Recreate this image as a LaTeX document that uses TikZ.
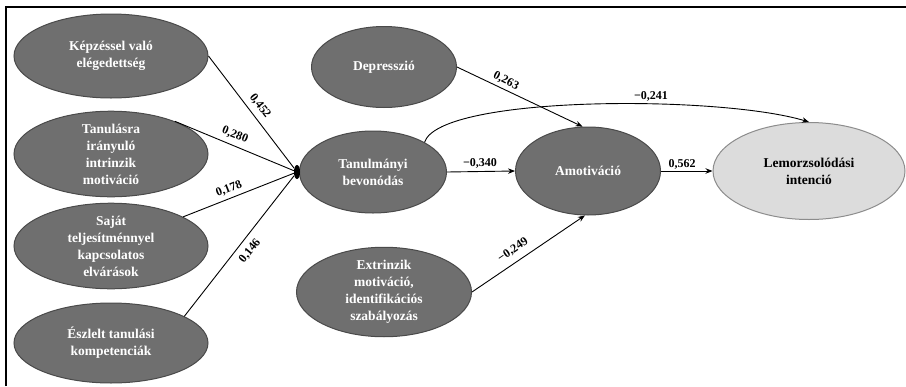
\documentclass[tikz,border=0pt]{standalone}
\usepackage{fontspec}
\setmainfont{Liberation Serif}
\usetikzlibrary{shapes.geometric,arrows.meta}
\definecolor{ellfill}{HTML}{6F6F6F}
\definecolor{elldraw}{HTML}{4A4A4A}
\definecolor{litefill}{HTML}{DCDCDC}
\definecolor{litedraw}{HTML}{8C8C8C}
\begin{document}
\begin{tikzpicture}[x=1pt,y=-1pt,
  dark/.style={ellipse,draw=elldraw,line width=1pt,fill=ellfill,text=white,
    font=\bfseries\fontsize{13.5}{17}\selectfont,align=center,inner sep=0pt},
  lite/.style={ellipse,draw=litedraw,line width=1pt,fill=litefill,text=black,
    font=\bfseries\fontsize{13.5}{17}\selectfont,align=center,inner sep=0pt},
  lbl/.style={font=\bfseries\fontsize{12}{13}\selectfont,inner sep=0pt},
  con/.style={line width=0.9pt},
  arr/.style={line width=0.9pt,-{Stealth[length=7pt,width=5.5pt]}}]
\useasboundingbox (0,0) rectangle (906,386);
\draw[line width=1.2pt] (6,386) -- (6,7) -- (906,7);

% left column
\node[dark,minimum width=194pt,minimum height=84pt] (kep) at (111,56) {Képzéssel való\\elégedettség};
\node[dark,minimum width=194pt,minimum height=80pt] (tan) at (111,154) {Tanulásra\\irányuló\\intrinzik\\motiváció};
\node[dark,minimum width=194pt,minimum height=84pt] (saj) at (111,246) {Saját\\teljesítménnyel\\kapcsolatos\\elvárások};
\node[dark,minimum width=194pt,minimum height=80pt] (esz) at (111,343) {Észlelt tanulási\\kompetenciák};

% middle column
\node[dark,minimum width=145pt,minimum height=81pt] (dep) at (384,67) {Depresszió};
\node[dark,minimum width=147pt,minimum height=82pt] (tb) at (373,172) {Tanulmányi\\bevonódás};
\node[dark,minimum width=175pt,minimum height=81pt] (ext) at (384,292) {Extrinzik\\motiváció,\\identifikációs\\szabályozás};

% right
\node[dark,minimum width=145pt,minimum height=88pt] (amo) at (588,171) {Amotiváció};
\node[lite,minimum width=192pt,minimum height=97pt] (lem) at (809,171) {Lemorzsolódási\\intenció};

% junction
\node[ellipse,fill=black,minimum width=6pt,minimum height=14pt,inner sep=0pt] (j) at (297,172) {};

% connectors into junction
\draw[con] (kep.east) -- (j);
\draw[con] (tan.27) -- (j);
\draw[con] (saj.22) -- (j);
\draw[con] (esz.20) -- (j);

% arrows
\draw[arr] (dep.east) -- (amo.97);
\draw[arr] (tb.east) -- (amo.west);
\draw[arr] (ext.east) -- (amo.266);
\draw[arr] (amo.east) -- (lem.west);
\draw[arr] (tb.30) .. controls (440,95) and (720,95) .. (lem.north);

% labels
\node[lbl,rotate=-52] (l1) at (260,106) {0,452};
\node[lbl,rotate=-22] (l2) at (235,135) {0,280};
\node[lbl,rotate=21.5] (l3) at (229,189) {0,178};
\node[lbl,rotate=51] (l4) at (250,251) {0,146};
\node[lbl,rotate=-27] (l5) at (506,81) {0,263};
\node[lbl] (l6) at (480,163) {−0,340};
\node[lbl] (l7) at (651,96) {−0,241};
\node[lbl,rotate=34] (l8) at (513,250) {−0,249};
\node[lbl] (l9) at (682,164) {0,562};
\end{tikzpicture}
\end{document}
